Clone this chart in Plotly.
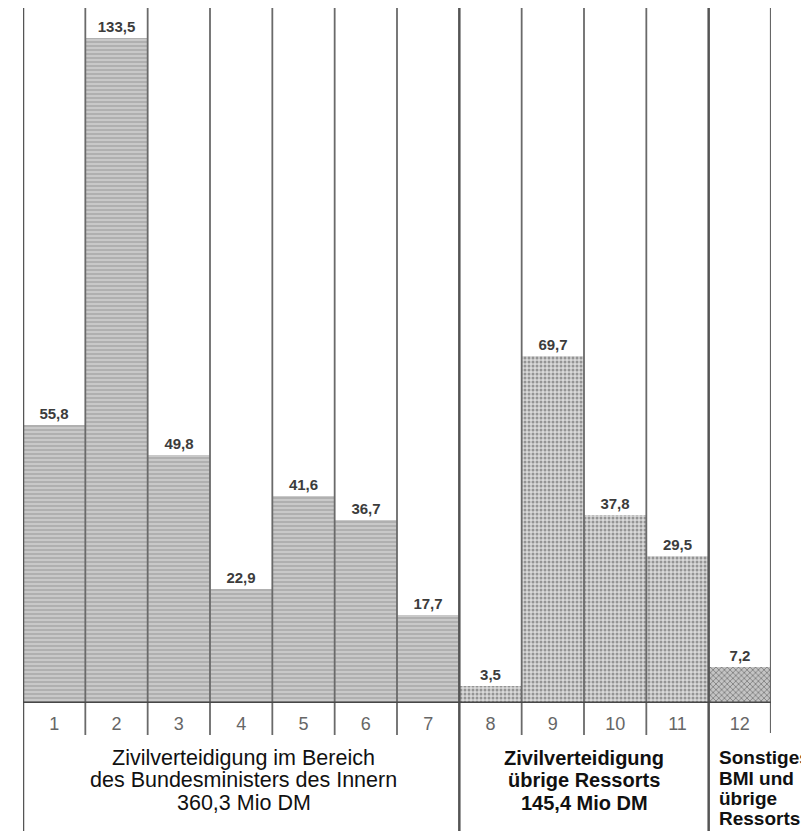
import plotly.graph_objects as go

# ---- data ----
categories = [str(i) for i in range(1, 13)]
values = [55.8, 133.5, 49.8, 22.9, 41.6, 36.7, 17.7, 3.5, 69.7, 37.8, 29.5, 7.2]
groups = ["BMI"] * 7 + ["Ressorts"] * 4 + ["Sonstiges"]
group_bmi = ["Zivilverteidigung im Bereich", "des Bundesministers des Innern", "360,3 Mio DM"]
group_ress = ["Zivilverteidigung", "übrige Ressorts", "145,4 Mio DM"]
group_sonst = ["Sonstiges", "BMI und", "übrige", "Ressorts"]

W, H = 809, 831
ML, MR, MT, MB = 15, 46, 0, 136
PH = H - MT - MB
YMAX = 139.6

FONT = "Liberation Sans, Arial, sans-serif"

xs = list(range(1, 13))
labels = [f"{v:.1f}".replace(".", ",") for v in values]

fig = go.Figure()

styles = {
    "BMI": dict(color="#c9c9c9", pattern=dict(shape="-", fgcolor="#8a8a8a", size=4, solidity=0.4)),
    "Ressorts": dict(color="#d9d9d9", pattern=dict(shape=".", fgcolor="#4f4f4f", size=4, solidity=0.45)),
    "Sonstiges": dict(color="#c4c4c4", pattern=dict(shape="x", fgcolor="#3f3f3f", size=4, solidity=0.4)),
}

for g in ["BMI", "Ressorts", "Sonstiges"]:
    idx = [i for i, gg in enumerate(groups) if gg == g]
    fig.add_trace(go.Bar(
        x=[xs[i] for i in idx],
        y=[values[i] for i in idx],
        text=[labels[i] for i in idx],
        textposition="outside",
        textfont=dict(family=FONT, size=15, color="#3c3c3c", weight="bold"),
        marker=dict(color=styles[g]["color"], pattern=styles[g]["pattern"], line=dict(width=0)),
        cliponaxis=False,
        width=1.0,
        showlegend=False,
        hoverinfo="skip",
    ))

shapes = []
def px_to_paper(px_below):
    return -px_below / PH

for k in range(13):
    xpos = 0.5 + k
    if k in (0, 7, 11):
        y0 = px_to_paper(MB)  # to bottom of image
        w = 2.5
        col = "#555555"
    elif k == 12:
        y0 = px_to_paper(30)
        w = 2.2
        col = "#666666"
    else:
        y0 = px_to_paper(32)
        w = 1.8
        col = "#6a6a6a"
    shapes.append(dict(type="line", xref="x", yref="paper", x0=xpos, x1=xpos,
                       y0=y0, y1=1.0, line=dict(color=col, width=w), layer="above"))

shapes.append(dict(type="line", xref="x", yref="y", x0=0.5, x1=12.5, y0=0, y1=0,
                   line=dict(color="#474747", width=3), layer="above"))

annotations = []
row_px = [55, 77, 100]  # centers below baseline
row_px_s = [54, 75, 95, 115]
for i, t in enumerate(group_bmi):
    annotations.append(dict(text=t, xref="x", yref="paper", x=4.04, y=px_to_paper(row_px[i]),
                            xanchor="center", yanchor="middle", showarrow=False,
                            font=dict(family=FONT, size=21.5, color="#111111")))
for i, t in enumerate(group_ress):
    annotations.append(dict(text=t, xref="x", yref="paper", x=9.5, y=px_to_paper(row_px[i]),
                            xanchor="center", yanchor="middle", showarrow=False,
                            font=dict(family=FONT, size=20, color="#111111", weight="bold")))
for i, t in enumerate(group_sonst):
    annotations.append(dict(text=t, xref="x", yref="paper", x=11.64, y=px_to_paper(row_px_s[i]),
                            xanchor="left", yanchor="middle", showarrow=False,
                            font=dict(family=FONT, size=19, color="#111111", weight="bold")))

fig.update_layout(
    width=W, height=H,
    margin=dict(l=ML, r=MR, t=MT, b=MB, pad=0),
    paper_bgcolor="white", plot_bgcolor="white",
    bargap=0, barmode="overlay",
    shapes=shapes, annotations=annotations,
    xaxis=dict(range=[0.5, 12.5], tickmode="array", tickvals=xs, ticktext=categories,
               showgrid=False, zeroline=False, showline=False, ticks="",
               tickfont=dict(family=FONT, size=18, color="#666666"),
               ticklabelstandoff=8, fixedrange=True),
    yaxis=dict(range=[0, YMAX], visible=False, showgrid=False, zeroline=False, fixedrange=True),
    font=dict(family=FONT),
)

fig.write_html("out.html", config={"displayModeBar": False})
